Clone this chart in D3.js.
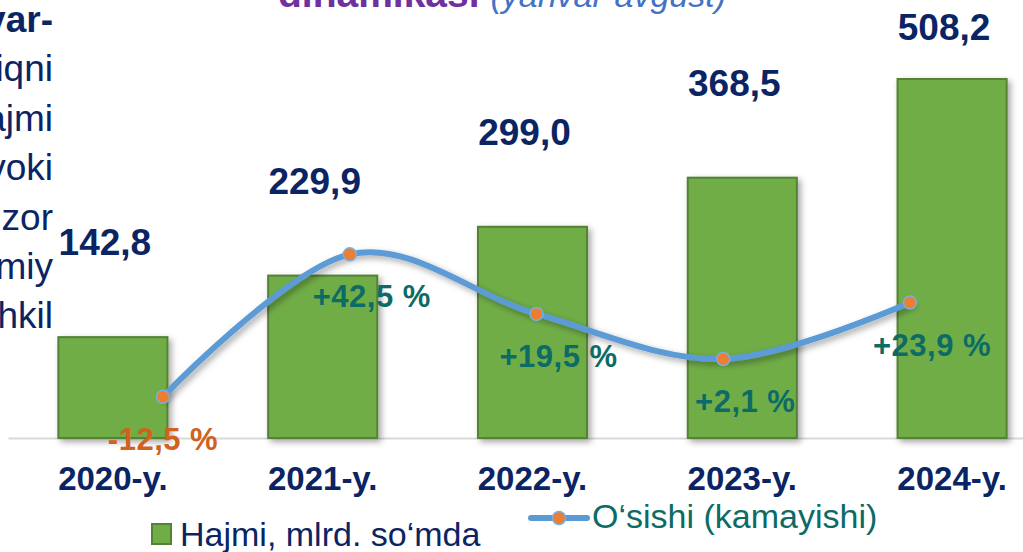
<!DOCTYPE html>
<html>
<head>
<meta charset="utf-8">
<script src="https://cdn.jsdelivr.net/npm/d3@7/dist/d3.min.js"></script>
<style>
  body { margin: 0; background: #fff; }
  svg { display: block; font-family: 'Liberation Sans', Arial, sans-serif; }
</style>
</head>
<body>
<svg id="chart" width="1023" height="552"></svg>
<script>
const years = ['2020-y.', '2021-y.', '2022-y.', '2023-y.', '2024-y.'];
const volume = [142.8, 229.9, 299.0, 368.5, 508.2];
const growth = [-12.5, 42.5, 19.5, 2.1, 23.9];
const sideText = ['var-', 'iqni', 'ajmi', 'voki', 'zor', 'miy', 'hkil'];

const navy = '#0b2463';
const teal = '#0d6b66';
const fmt = v => v.toFixed(1).replace('.', ',');
const fmtPct = v => (v > 0 ? '+' : '') + fmt(v) + ' %';

const svg = d3.select('#chart');
const baseY = 438;

// drop shadow like the office chart
const defs = svg.append('defs');
defs.append('filter')
  .attr('id', 'shadow')
  .attr('x', '-20%').attr('y', '-20%')
  .attr('width', '150%').attr('height', '150%')
  .append('feDropShadow')
  .attr('dx', 3).attr('dy', 3)
  .attr('stdDeviation', 3)
  .attr('flood-color', '#000')
  .attr('flood-opacity', 0.35);

const x = d3.scaleBand()
  .domain(years)
  .range([8, 1057])
  .paddingInner(0.48)
  .paddingOuter(0.24);

const y = d3.scaleLinear().domain([0, 620]).range([baseY, 0]);

// line series sits on its own (secondary) axes
const x2 = d3.scalePoint().domain(years).range([163, 910]);
const y2 = d3.scaleLinear().domain([-28.4, 140.7]).range([baseY, 0]);

// title, cut at the top
const title = svg.append('text')
  .attr('x', 278)
  .attr('y', 7)
  .style('font-size', '39px');
title.append('tspan')
  .attr('fill', '#7030a0')
  .style('font-weight', 'bold')
  .text('dinamikasi ');
title.append('tspan')
  .attr('fill', '#4472c4')
  .style('font-style', 'italic')
  .style('font-size', '34px')
  .text('(yanvar-avgust)');

// side text fragments on the left
svg.append('g')
  .selectAll('text')
  .data(sideText)
  .join('text')
  .attr('x', 53)
  .attr('y', (d, i) => 32 + i * 49.4)
  .attr('text-anchor', 'end')
  .attr('fill', navy)
  .style('font-size', '37px')
  .style('font-weight', (d, i) => i === 0 ? 'bold' : 'normal')
  .text(d => d);

// axis
const axis = svg.append('g')
  .attr('transform', `translate(0,${baseY})`)
  .call(d3.axisBottom(x).tickSize(0));
axis.select('.domain')
  .attr('stroke', '#d9d9d9')
  .attr('stroke-width', 2);
axis.selectAll('text')
  .attr('dy', null)
  .attr('y', 52)
  .attr('fill', navy)
  .style('font-size', '33px')
  .style('font-weight', 'bold')
  .style('font-family', "'Liberation Sans', Arial, sans-serif");

// bars
svg.append('g')
  .selectAll('rect')
  .data(volume)
  .join('rect')
  .attr('x', (d, i) => x(years[i]))
  .attr('y', d => y(d))
  .attr('width', x.bandwidth())
  .attr('height', d => baseY - y(d))
  .attr('fill', '#70ad47')
  .attr('stroke', '#548235')
  .attr('stroke-width', 2)
  .attr('filter', 'url(#shadow)');

// value labels
svg.append('g')
  .selectAll('text')
  .data(volume)
  .join('text')
  .attr('x', (d, i) => x(years[i]) + x.bandwidth() / 2 - 8)
  .attr('y', d => Math.max(y(d) - 82, 40))
  .attr('text-anchor', 'middle')
  .attr('fill', navy)
  .style('font-size', '37px')
  .style('font-weight', 'bold')
  .text(d => fmt(d));

// growth line
const line = d3.line()
  .x((d, i) => x2(years[i]))
  .y(d => y2(d))
  .curve(d3.curveCardinal.tension(0));

svg.append('path')
  .datum(growth)
  .attr('d', line)
  .attr('fill', 'none')
  .attr('stroke', '#5b9bd5')
  .attr('stroke-width', 6)
  .attr('stroke-linecap', 'round')
  .attr('filter', 'url(#shadow)');

svg.append('g')
  .selectAll('circle')
  .data(growth)
  .join('circle')
  .attr('cx', (d, i) => x2(years[i]))
  .attr('cy', d => y2(d))
  .attr('r', 6.5)
  .attr('fill', '#ed7d31')
  .attr('stroke', '#7aaee0')
  .attr('stroke-width', 1.5);

svg.append('g')
  .selectAll('text')
  .data(growth)
  .join('text')
  .attr('x', (d, i) => x2(years[i]) + (i === 0 ? 0 : 22))
  .attr('y', d => y2(d) + 53)
  .attr('text-anchor', 'middle')
  .attr('fill', d => d < 0 ? '#d0621d' : teal)
  .style('font-size', '31px')
  .style('font-weight', 'bold')
  .style('letter-spacing', '0.5px')
  .text(d => fmtPct(d));

// legend
const legend = svg.append('g');
legend.append('rect')
  .attr('x', 152).attr('y', 524)
  .attr('width', 19).attr('height', 20)
  .attr('fill', '#70ad47')
  .attr('stroke', '#548235')
  .attr('stroke-width', 2);
legend.append('text')
  .attr('x', 180).attr('y', 546)
  .attr('fill', navy)
  .style('font-size', '34px')
  .text('Hajmi, mlrd. so‘mda');

legend.append('line')
  .attr('x1', 531).attr('x2', 587)
  .attr('y1', 518).attr('y2', 518)
  .attr('stroke', '#5b9bd5')
  .attr('stroke-width', 6)
  .attr('stroke-linecap', 'round');
legend.append('circle')
  .attr('cx', 559).attr('cy', 518)
  .attr('r', 6.5)
  .attr('fill', '#ed7d31')
  .attr('stroke', '#7aaee0')
  .attr('stroke-width', 1.5);
legend.append('text')
  .attr('x', 592).attr('y', 528)
  .attr('fill', teal)
  .style('font-size', '34px')
  .text('O‘sishi (kamayishi)');
</script>
</body>
</html>
